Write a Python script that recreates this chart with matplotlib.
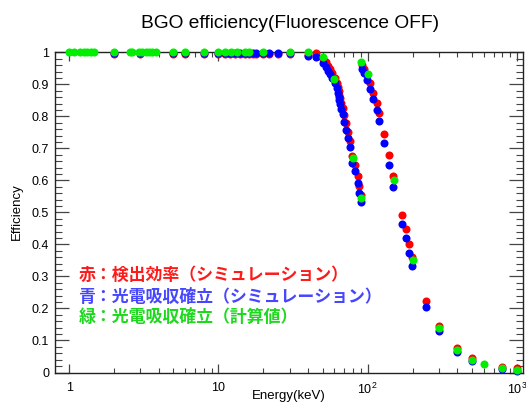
import matplotlib
matplotlib.use("Agg")
import matplotlib.pyplot as plt
from matplotlib.ticker import FixedLocator, FixedFormatter, MultipleLocator, NullFormatter

plt.rcParams['font.family'] = ['Liberation Sans', 'DejaVu Sans']
plt.rcParams['mathtext.fontset'] = 'custom'
plt.rcParams['mathtext.rm'] = 'Liberation Sans'

# ---- data ----
title = "BGO efficiency(Fluorescence OFF)"
xlabel = "Energy(keV)"
ylabel = "Efficiency"

red_e = [2, 3, 5, 6, 8, 10, 11, 12, 13, 14, 15, 16, 17, 18, 20, 22, 25, 30, 40, 45,
         50.3, 52.4, 54.3, 55.7, 57.9, 60.8, 62.0, 63.0, 64.1, 64.8, 65.8, 66.8, 68.2, 69.3,
         72.0, 73.8, 76.0, 79.1, 82.1, 85.6, 87.9, 90.4,
         92, 95, 99, 104, 109, 115, 120, 129, 139, 147, 169, 180, 190, 199, 248, 300, 400,
         500, 800, 1000]
red_v = [0.994, 0.994, 0.994, 0.994, 0.994, 0.994, 0.994, 0.994, 0.994, 0.994, 0.994, 0.994,
         0.994, 0.994, 0.995, 0.995, 0.995, 0.996, 0.993, 0.997,
         0.980, 0.969, 0.958, 0.947, 0.934, 0.919, 0.905, 0.891, 0.878, 0.868, 0.857, 0.841,
         0.826, 0.803, 0.778, 0.752, 0.724, 0.675, 0.649, 0.613, 0.583, 0.553,
         0.960, 0.948, 0.928, 0.903, 0.872, 0.841, 0.809, 0.745, 0.678, 0.613, 0.4915, 0.448,
         0.401, 0.361, 0.224, 0.146, 0.075, 0.044, 0.016, 0.015]

blue_e = red_e
blue_v = [0.999, 0.999, 0.999, 0.999, 0.999, 0.999, 0.999, 0.999, 0.999, 0.999, 0.999, 0.999,
          0.999, 0.999, 0.999, 0.999, 0.999, 0.999, 0.988, 0.984,
          0.967, 0.955, 0.943, 0.932, 0.919, 0.903, 0.888, 0.874, 0.861, 0.851, 0.839, 0.822,
          0.807, 0.783, 0.758, 0.732, 0.704, 0.654, 0.628, 0.592, 0.561, 0.531,
          0.948, 0.934, 0.913, 0.884, 0.853, 0.820, 0.786, 0.7175, 0.648, 0.580, 0.463, 0.419,
          0.374, 0.334, 0.204, 0.130, 0.063, 0.035, 0.012, 0.006]

green_e = [1.0, 1.08, 1.19, 1.26, 1.32, 1.39, 1.47, 2.0, 2.54, 2.65, 2.93, 3.09, 3.25, 3.43,
           3.61, 3.80, 5.0, 6.0, 8.0, 10.0, 11.0, 12.1, 13.3, 15.0, 16.0, 20.0, 30.0, 40.0,
           50.0, 60.0, 80.0, 90.5, 90.5, 100, 150, 200, 300, 400, 500, 600, 800, 1000]
green_v = [1.0, 1.0, 1.0, 1.0, 1.0, 1.0, 1.0, 1.0, 1.0, 1.0, 1.0, 1.0, 1.0, 1.0,
           1.0, 1.0, 1.0, 1.0, 1.0, 1.0, 1.0, 1.0, 1.0, 1.0, 1.0, 1.0, 1.0, 1.0,
           0.986, 0.916, 0.669, 0.544, 0.969, 0.931, 0.601, 0.350, 0.138, 0.070, 0.040,
           0.028, 0.0143, 0.008]

xtick_vals = [1, 10, 100, 1000]
xtick_labels = ["1", "10", r"$\mathregular{10^2}$", r"$\mathregular{10^3}$"]
ytick_vals = [0, 0.1, 0.2, 0.3, 0.4, 0.5, 0.6, 0.7, 0.8, 0.9, 1.0]
ytick_labels = ["0", "0.1", "0.2", "0.3", "0.4", "0.5", "0.6", "0.7", "0.8", "0.9", "1"]

legend_texts = ["赤：検出効率（シミュレーション）",
                "青：光電吸収確立（シミュレーション）",
                "緑：光電吸収確立（計算値）"]
legend_colors = ["#ff1a1a", "#4646ff", "#1ed81e"]

# ---- figure ----
W, H = 526, 403
fig = plt.figure(figsize=(W / 100, H / 100), dpi=100)
ax = fig.add_axes([54.7 / W, 1 - 372.5 / H, (523 - 54.7) / W, (372.5 - 52.3) / H])

ms = 5.8
ax.plot(red_e, red_v, 'o', color='#ff0000', ms=ms, mew=0, clip_on=False, zorder=3)
ax.plot(blue_e, blue_v, 'o', color='#0000ff', ms=ms, mew=0, clip_on=False, zorder=4)
ax.plot(green_e, green_v, 'o', color='#00ee00', ms=ms, mew=0, clip_on=False, zorder=5)

ax.set_xscale('log')
ax.set_xlim(0.8, 1100)
ax.set_ylim(0, 1)

ax.xaxis.set_major_locator(FixedLocator(xtick_vals))
ax.xaxis.set_major_formatter(FixedFormatter(xtick_labels))
minors = [m * d for d in [1, 10, 100] for m in range(2, 10)]
ax.xaxis.set_minor_locator(FixedLocator(minors))
ax.xaxis.set_minor_formatter(NullFormatter())

ax.yaxis.set_major_locator(FixedLocator(ytick_vals))
ax.yaxis.set_major_formatter(FixedFormatter(ytick_labels))
ax.yaxis.set_minor_locator(MultipleLocator(0.02))

tc = '#444444'
ax.tick_params(axis='x', which='major', direction='in', length=6.5, width=0.9,
               top=True, bottom=True, color=tc, labelsize=9, pad=7)
ax.tick_params(axis='x', which='minor', direction='in', length=3.5, width=0.8,
               top=True, bottom=True, color=tc)
ax.tick_params(axis='y', which='major', direction='in', length=10, width=0.9,
               left=True, right=True, color=tc, labelsize=9, pad=4)
ax.tick_params(axis='y', which='minor', direction='in', length=5, width=0.8,
               left=True, right=True, color=tc)
for s in ax.spines.values():
    s.set_color('#222222')
    s.set_linewidth(1.0)

fig.text(289 / W, 1 - 395.5 / H, xlabel, ha='center', va='center', fontsize=9.5)
fig.text(17 / W, 1 - 212 / H, ylabel, ha='center', va='center', fontsize=9.5,
         rotation=90)
fig.text(290 / W, 1 - 23 / H, title, ha='center', va='center', fontsize=13.8)

ys = [275, 297.3, 316.7]
for t, c, y in zip(legend_texts, legend_colors, ys):
    fig.text(78.3 / W, 1 - y / H, t, color=c, fontsize=12.2, fontweight='bold',
             family=['Noto Sans CJK JP', 'DejaVu Sans'], ha='left', va='center')

fig.savefig('out.png', dpi=100)
